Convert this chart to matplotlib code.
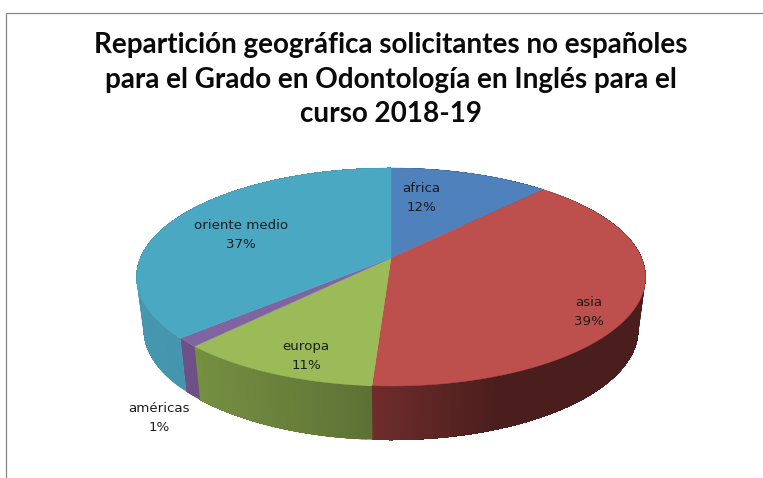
import numpy as np
import matplotlib
matplotlib.use("Agg")
import matplotlib.pyplot as plt

categories = ["africa", "asia", "europa", "américas", "oriente medio"]
shares = [12.0, 39.0, 11.0, 1.3, 36.7]
top_colors = ["#4f81bd", "#bd4f4c", "#9bbb59", "#8064a2", "#4aa8c3"]
wall_left = ["#3b6090", "#6f2c2c", "#7d9a45", "#6d5088", "#4797b0"]
wall_right = ["#2f4d73", "#4a1e1c", "#5e7135", "#6d5088", "#3c8aa3"]
title_lines = "Repartición geográfica solicitantes no españoles\npara el Grado en Odontología en Inglés para el\ncurso 2018-19"
label_xy = [(421, 198), (589, 312), (306, 356), (159, 418), (241, 235)]

W, H = 763, 478
fig = plt.figure(figsize=(W / 100, H / 100), dpi=100, facecolor="white")
ax = fig.add_axes([0, 0, 1, 1])
ax.set_xlim(0, W)
ax.set_ylim(H, 0)
ax.axis("off")

# perspective projection of a tilted disc
K, CX, CY, A, B = 0.1743, 391.0, 258.0, 250.6, 105.7
SHRINK = 0.972


def top(theta):
    u, v = np.sin(theta), np.cos(theta)
    d = 1 + K * v
    return CX + A * u / d, CY - B * v / d


def bottom(theta):
    x, y = top(theta)
    return CX + (x - CX) * SHRINK, y + 52 + 2 * np.clip(-np.cos(theta), 0, 1)


edges = np.radians(np.concatenate([[0], np.cumsum(shares)]) * 3.6)

# side walls: overlapping strips painted in order, so no seams show
for i in range(len(shares)):
    t0, t1 = edges[i], edges[i + 1]
    n = max(3, int((t1 - t0) * 60))
    ts = np.linspace(t0, t1, n + 1)
    c0 = np.array(matplotlib.colors.to_rgb(wall_left[i]))
    c1 = np.array(matplotlib.colors.to_rgb(wall_right[i]))
    for j in range(n):
        arc = np.linspace(ts[j], t1, max(2, (n - j) + 1))
        xt, yt = top(arc)
        xb, yb = bottom(arc)
        xm = np.clip(top(ts[j])[0], 137, 646)
        if i == 1:
            f = np.clip((xm - 374) / 130, 0, 1)
        else:
            f = np.clip((xm - 137) / (374 - 137), 0, 1)
        col = c0 + (c1 - c0) * f
        ax.fill(np.r_[xt, xb[::-1]], np.r_[yt, yb[::-1]], color=col, lw=0, zorder=2)

# top faces
for i in range(len(shares)):
    ts = np.linspace(edges[i], edges[i + 1], 200)
    xs, ys = top(ts)
    ax.fill(np.r_[CX, xs], np.r_[CY, ys], color=top_colors[i], lw=0.3, zorder=3)

# labels
for name, val, (x, y) in zip(categories, shares, label_xy):
    ax.text(x, y, f"{name}\n{round(val)}%", ha="center", va="center", fontsize=9.6,
            family="DejaVu Sans", color="#1c1c1c", linespacing=1.52, zorder=5)

ax.text(391, 79.5, title_lines, ha="center", va="center", fontsize=20.1, family="Lato",
        weight="bold", color="#0a0a0a", linespacing=1.42, zorder=5)

# chart frame
ax.plot([5.5, 5.5, W], [H, 12.5, 12.5], color="#868686", lw=0.9, zorder=1, solid_joinstyle="miter")

fig.savefig("out.png", dpi=100, facecolor="white")
